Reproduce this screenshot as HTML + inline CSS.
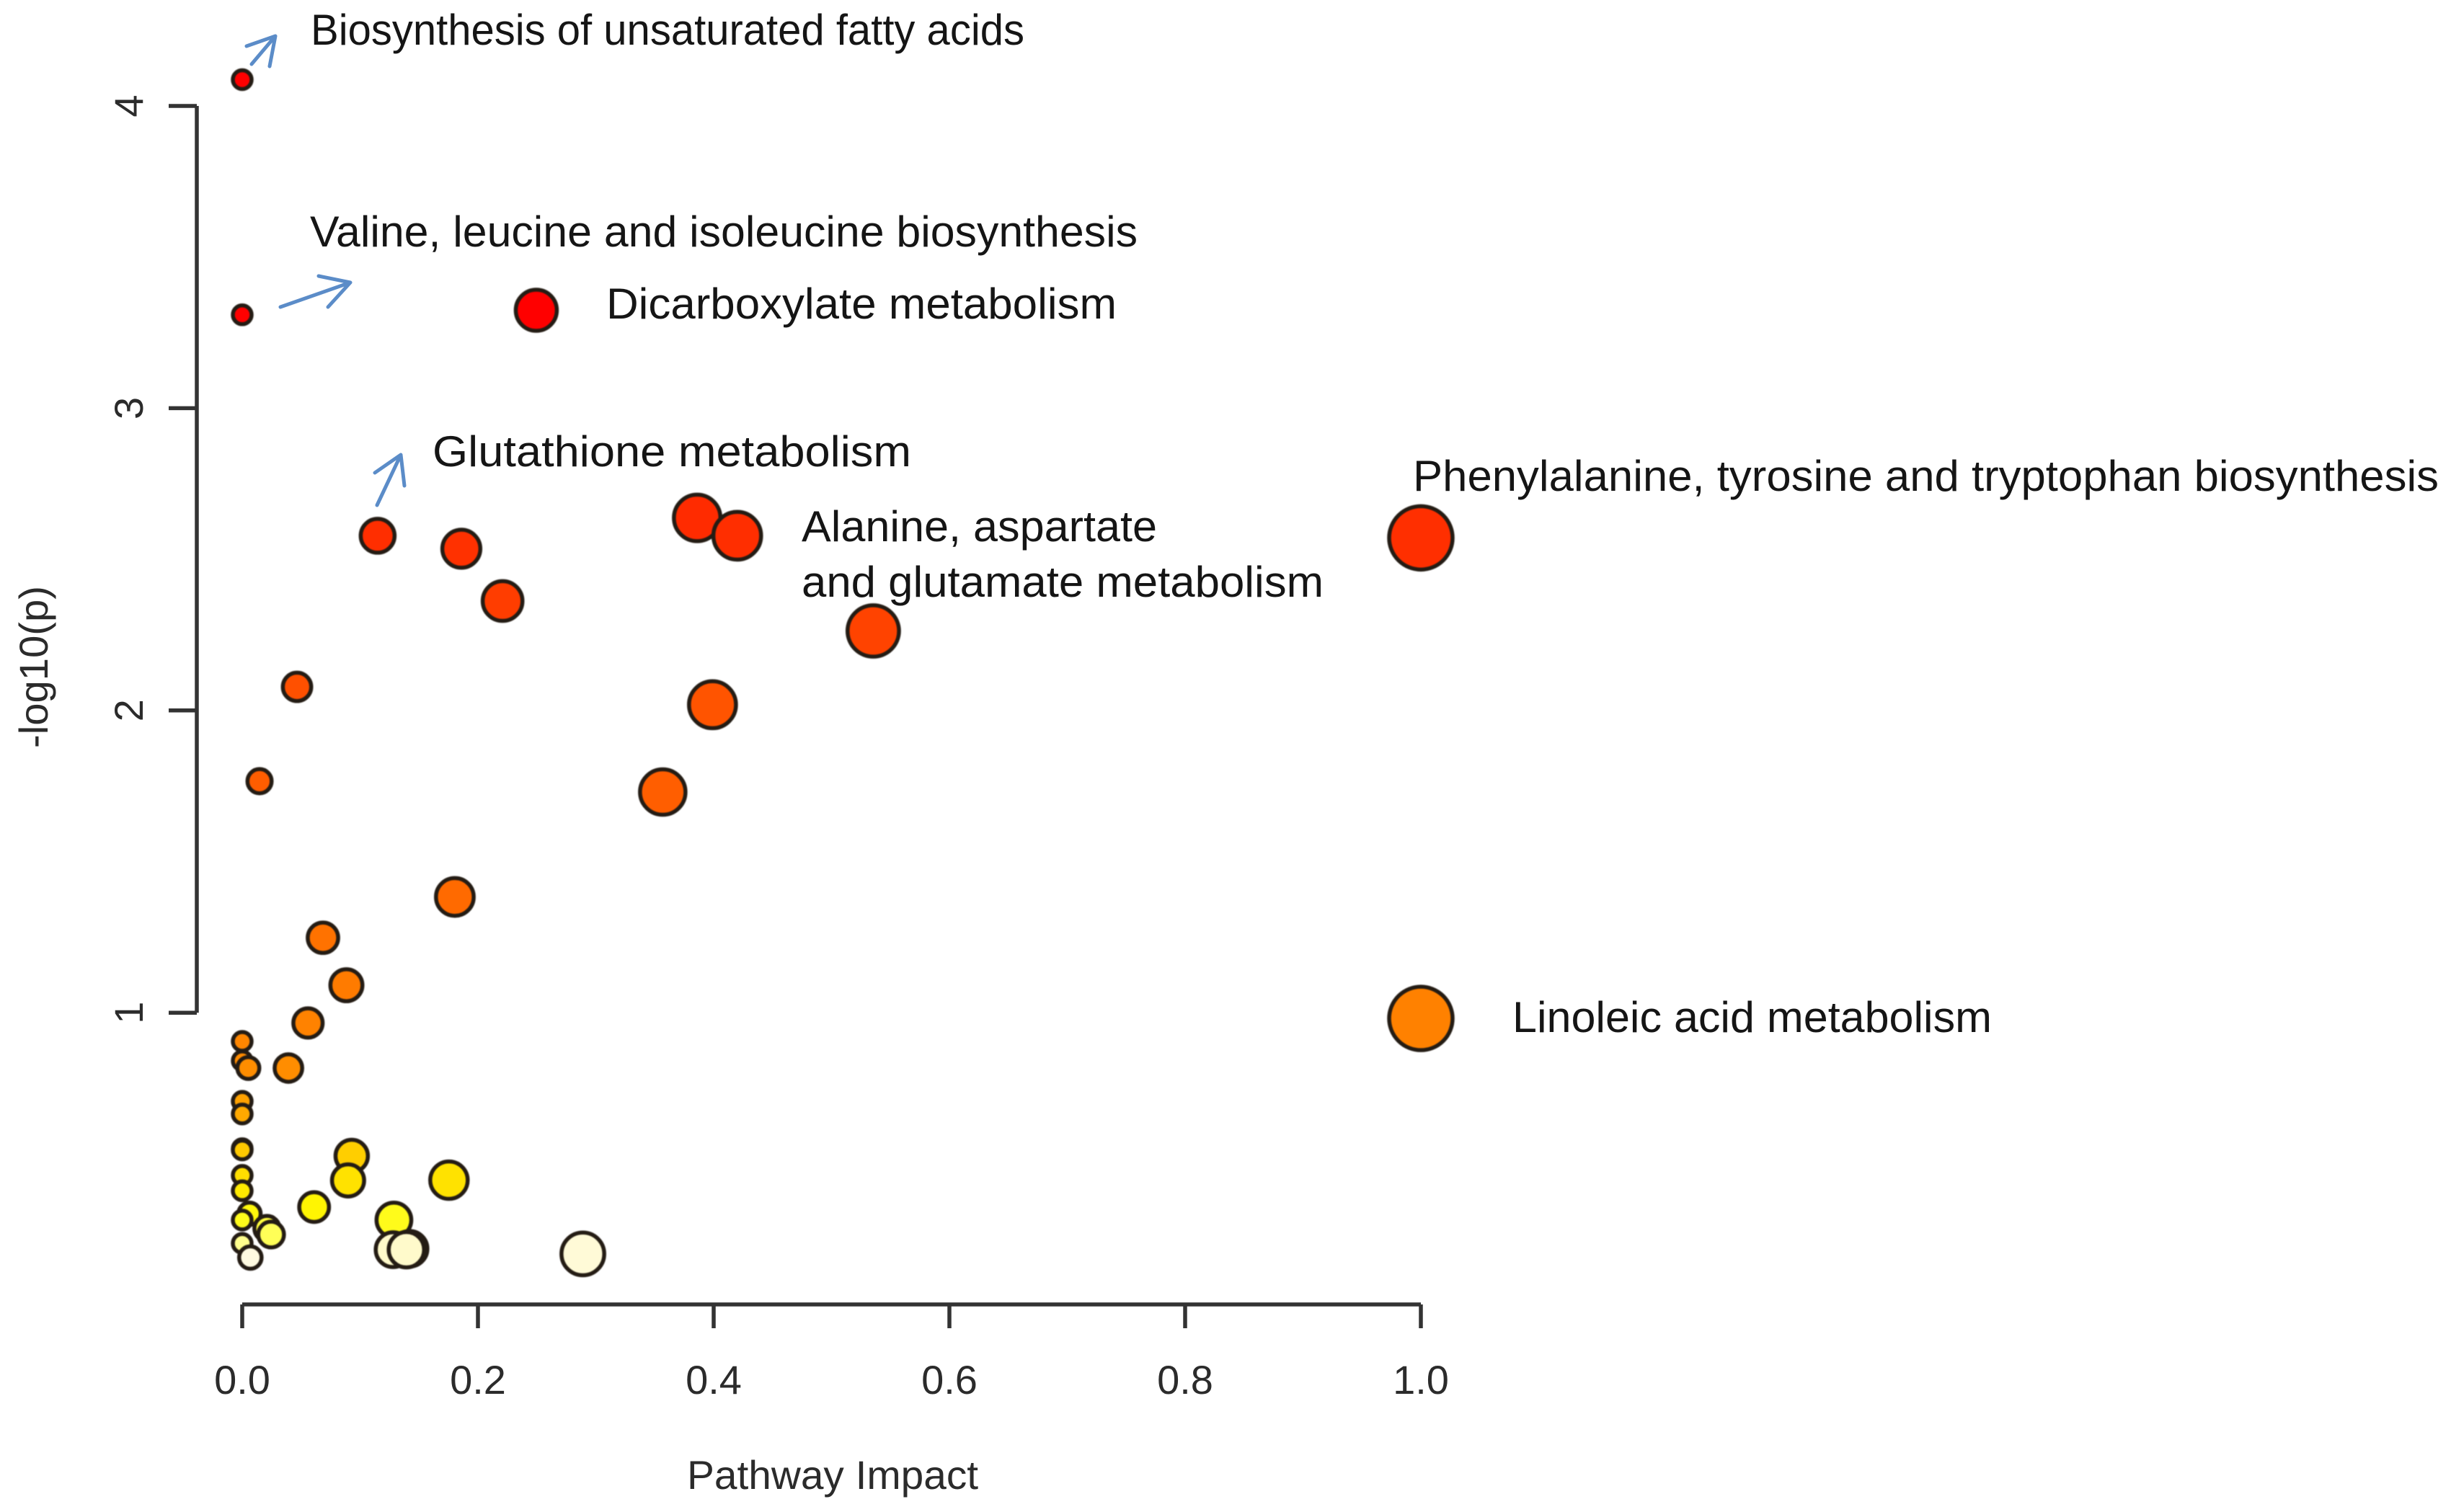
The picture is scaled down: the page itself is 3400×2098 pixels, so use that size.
<!DOCTYPE html>
<html lang="en">
<head>
<meta charset="utf-8">
<title>Pathway Impact Bubble Chart</title>
<style>
html,body{margin:0;padding:0;background:#fff;width:3400px;height:2098px;overflow:hidden}
svg{display:block}
.lbl{font-family:"Liberation Sans",sans-serif;font-size:60px;fill:#151515}
.axt{font-family:"Liberation Sans",sans-serif;font-size:56px;fill:#2b2b2b}
.arrow{fill:none;stroke:#5b8cc8;stroke-width:5;stroke-linecap:round;stroke-linejoin:round}
</style>
</head>
<body>
<svg id="chart" xmlns="http://www.w3.org/2000/svg" width="3400" height="2098" viewBox="0 0 3400 2098">
  <rect x="0" y="0" width="3400" height="2098" fill="#ffffff"/>
  <g id="axes"></g>
  <g id="points" style="filter:blur(0.9px)"></g>

  <text class="axt" x="953" y="2066" textLength="404" lengthAdjust="spacingAndGlyphs">Pathway Impact</text>
  <text class="axt" transform="translate(66 1038) rotate(-90)" x="0" y="0" textLength="225" lengthAdjust="spacingAndGlyphs">-log10(p)</text>

  <text class="lbl" x="431" y="62" textLength="990" lengthAdjust="spacingAndGlyphs">Biosynthesis of unsaturated fatty acids</text>
  <text class="lbl" x="430" y="342" textLength="1148" lengthAdjust="spacingAndGlyphs">Valine, leucine and isoleucine biosynthesis</text>
  <text class="lbl" x="841" y="442" textLength="708" lengthAdjust="spacingAndGlyphs">Dicarboxylate metabolism</text>
  <text class="lbl" x="600" y="647" textLength="664" lengthAdjust="spacingAndGlyphs">Glutathione metabolism</text>
  <text class="lbl" x="1112" y="751" textLength="493" lengthAdjust="spacingAndGlyphs">Alanine, aspartate</text>
  <text class="lbl" x="1112" y="828" textLength="724" lengthAdjust="spacingAndGlyphs">and glutamate metabolism</text>
  <text class="lbl" x="1960" y="681" textLength="1423" lengthAdjust="spacingAndGlyphs">Phenylalanine, tyrosine and tryptophan biosynthesis</text>
  <text class="lbl" x="2098" y="1432" textLength="665" lengthAdjust="spacingAndGlyphs">Linoleic acid metabolism</text>

  <g>
    <path class="arrow" d="M349 89L382 50M342 64L382 50L374 92"/>
  </g>
  <g>
    <path class="arrow" d="M389 426L486 392M442 383L486 392L455 426"/>
  </g>
  <g>
    <path class="arrow" d="M523 701L556 631M520 656L556 631L561 674"/>
  </g>
</svg>
<script>
// Chart data
const pathwayImpact = [0,0,0.2495,0.1149,0.1859,0.2209,0.386,0.42,0.5354,0.0465,0.399,0.0147,0.3568,0.1804,0.0685,0.0884,0.0558,0,0,0.0052,0.0392,1,1,0,0,0,0,0,0,0.0929,0.0898,0.1754,0.061,0.1287,0.0062,0,0.021,0.0245,0,0.0069,0.128,0.142,0.1393,0.289];
const minusLog10P = [4.087,3.309,3.324,2.578,2.535,2.362,2.637,2.578,2.263,2.078,2.019,1.766,1.73,1.383,1.248,1.091,0.966,0.905,0.841,0.817,0.817,2.571,0.981,0.707,0.665,0.55,0.546,0.462,0.411,0.526,0.445,0.446,0.357,0.314,0.335,0.314,0.286,0.266,0.237,0.19,0.216,0.219,0.216,0.202];
const xTickValues = [0,0.2,0.4,0.6,0.8,1];
const xTickLabels = ["0.0","0.2","0.4","0.6","0.8","1.0"];
const yTickValues = [1,2,3,4];
const yTickLabels = ["1","2","3","4"];

const NS = 'http://www.w3.org/2000/svg';
function xScale(v){ return 336 + v * 1635; }
function yScale(v){ return 1824.6 - v * 419.4; }
function radiusScale(impact){ return 13 + 31 * Math.sqrt(impact); }
function heatColor(p){
  const stops = [[0.19,255,250,225],[0.22,255,250,200],[0.24,255,255,130],[0.27,255,255,80],[0.32,255,250,20],[0.36,255,245,0],[0.45,255,225,0],[0.53,255,205,0],[0.66,255,170,0],[0.82,255,140,0],[1,255,128,0],[1.4,255,105,0],[2,255,85,0],[2.3,255,65,0],[2.6,255,45,0],[3.3,255,0,0],[4.1,255,0,0]];
  if (p <= stops[0][0]) return 'rgb(255,250,225)';
  for (let i = 1; i < stops.length; i++) {
    if (p <= stops[i][0]) {
      const a = stops[i-1], b = stops[i], t = (p - a[0]) / (b[0] - a[0]);
      return 'rgb(' + [1,2,3].map(function(k){ return Math.round(a[k] + (b[k] - a[k]) * t); }).join(',') + ')';
    }
  }
  return 'rgb(255,0,0)';
}
function make(tag, parent, attrs){
  const el = document.createElementNS(NS, tag);
  Object.keys(attrs).forEach(function(k){ el.setAttribute(k, attrs[k]); });
  parent.appendChild(el);
  return el;
}

const axes = document.getElementById('axes');
const axisStyle = {fill:'none', stroke:'#333333', 'stroke-width':5.5};

const xLine = make('path', axes, Object.assign({d:'M' + xScale(xTickValues[0]) + ' 1810H' + xScale(xTickValues[xTickValues.length-1])}, axisStyle));


xTickValues.forEach(function(v, i){
  const tick = make('path', axes, Object.assign({d:'M' + xScale(v) + ' 1810V1843'}, axisStyle));
  
  
  const label = make('text', axes, {x:xScale(v), y:1934, 'text-anchor':'middle', 'class':'axt'});
  label.textContent = xTickLabels[i];
  
  
});

const yLine = make('path', axes, Object.assign({d:'M273 ' + yScale(yTickValues[0]) + 'V' + yScale(yTickValues[yTickValues.length-1])}, axisStyle));


yTickValues.forEach(function(v, i){
  const tick = make('path', axes, Object.assign({d:'M234 ' + yScale(v) + 'H273'}, axisStyle));
  
  
  const label = make('text', axes, {transform:'translate(198 ' + yScale(v) + ') rotate(-90)', x:0, y:0, 'text-anchor':'middle', 'class':'axt'});
  label.textContent = yTickLabels[i];
  
  
});

const points = document.getElementById('points');
pathwayImpact.forEach(function(impact, i){
  const dot = make('circle', points, {
    cx: xScale(impact),
    cy: yScale(minusLog10P[i]),
    r: radiusScale(impact),
    fill: heatColor(minusLog10P[i]),
    stroke: '#241c14',
    'stroke-width': 5.5
  });
  
  
});
</script>
</body>
</html>
